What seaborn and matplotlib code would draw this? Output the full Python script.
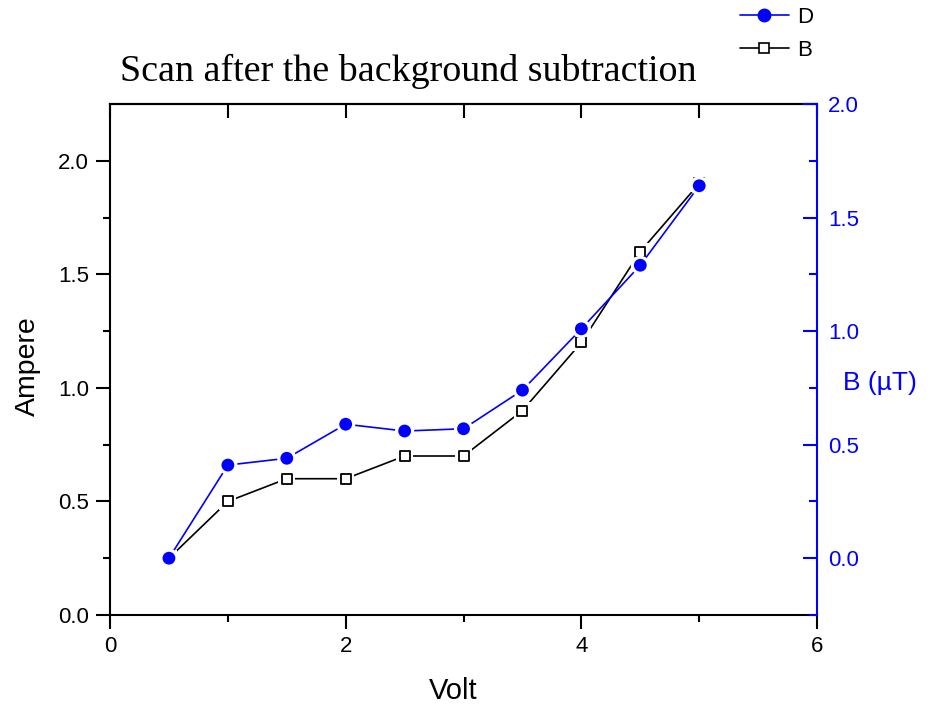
import matplotlib
matplotlib.use("Agg")
import matplotlib.pyplot as plt
import seaborn as sns
from matplotlib.ticker import MultipleLocator, FixedLocator, FormatStrFormatter
from matplotlib.lines import Line2D

# Measured data
volt = [0.5, 1.0, 1.5, 2.0, 2.5, 3.0, 3.5, 4.0, 4.5, 5.0]
b_ampere = [0.25, 0.50, 0.60, 0.60, 0.70, 0.70, 0.90, 1.20, 1.60, 1.90]
d_field = [0.00, 0.41, 0.44, 0.59, 0.56, 0.57, 0.74, 1.01, 1.29, 1.64]

x_major = [0, 2, 4, 6]
left_major = [0.0, 0.5, 1.0, 1.5, 2.0]
left_minor = [0.25, 0.75, 1.25, 1.75]
right_major = [0.0, 0.5, 1.0, 1.5, 2.0]
right_minor = [-0.25, 0.25, 0.75, 1.25, 1.75]

sns.set_style("white")
plt.rcParams["font.family"] = ["Liberation Sans", "DejaVu Sans"]
plt.rcParams["text.color"] = "black"
plt.rcParams["axes.labelcolor"] = "black"

fig = plt.figure(figsize=(9.34, 7.08), dpi=100)
ax = fig.add_axes([0.1178, 0.1314, 0.757, 0.7217])
ax2 = ax.twinx()

BLUE = "#0000ff"
LW = 1.5

# B series on the left axis: line, white halo, open squares
sns.lineplot(x=volt, y=b_ampere, ax=ax, color="black", lw=1.2, zorder=2)
sns.scatterplot(x=volt, y=b_ampere, ax=ax, marker="s", s=150, color="white",
                edgecolor="none", zorder=3, legend=False)
sns.scatterplot(x=volt, y=b_ampere, ax=ax, marker="s", s=55, facecolor="white",
                edgecolor="black", linewidth=1.3, zorder=4, legend=False)

# D series on the right axis: line, white halo, filled circles
sns.lineplot(x=volt, y=d_field, ax=ax2, color=BLUE, lw=1.2, zorder=2)
sns.scatterplot(x=volt, y=d_field, ax=ax2, marker="o", s=190, color="white",
                edgecolor="none", zorder=3, legend=False)
sns.scatterplot(x=volt, y=d_field, ax=ax2, marker="o", s=85, color=BLUE,
                edgecolor="none", zorder=4, legend=False)

# Left / bottom axes
ax.set_xlim(0, 6)
ax.set_ylim(0, 2.25)
ax.xaxis.set_major_locator(FixedLocator(x_major))
ax.xaxis.set_minor_locator(MultipleLocator(1))
ax.yaxis.set_major_locator(FixedLocator(left_major))
ax.yaxis.set_minor_locator(FixedLocator(left_minor))
ax.yaxis.set_major_formatter(FormatStrFormatter("%.1f"))
ax.tick_params(which="major", direction="out", length=10, width=LW,
               labelsize=16, pad=5, colors="black", left=True, bottom=True)
ax.tick_params(which="minor", direction="out", length=5, width=LW,
               colors="black", left=True, bottom=True)
ax.tick_params(which="both", top=False, right=False)
for side in ["left", "bottom", "top"]:
    ax.spines[side].set_linewidth(LW)
    ax.spines[side].set_color("black")
ax.spines["right"].set_visible(False)

top = ax.secondary_xaxis("top")
top.xaxis.set_major_locator(MultipleLocator(1))
top.tick_params(direction="in", length=10, width=LW, colors="black",
                labeltop=False)
top.spines["top"].set_linewidth(LW)
top.spines["top"].set_color("black")

ax.set_xlabel("Volt", fontsize=21)
ax.xaxis.set_label_coords(0.485, -0.122)
ax.set_ylabel("Ampere", fontsize=20.5)
ax.yaxis.set_label_coords(-0.0976, 0.487)

# Right axis
ax2.set_ylim(-0.25, 2.0)
ax2.yaxis.set_major_locator(FixedLocator(right_major))
ax2.yaxis.set_minor_locator(FixedLocator(right_minor))
ax2.yaxis.set_major_formatter(FormatStrFormatter("%.1f"))
ax2.tick_params(axis="y", which="major", direction="in", length=10, width=LW,
                colors=BLUE, labelsize=16, pad=8, right=True)
ax2.tick_params(axis="y", which="minor", direction="in", length=6, width=LW,
                colors=BLUE, right=True)
for side in ["left", "bottom", "top"]:
    ax2.spines[side].set_visible(False)
ax2.spines["right"].set_color(BLUE)
ax2.spines["right"].set_linewidth(LW)
ax2.set_ylabel("B (\u00b5T)", fontsize=19, color=BLUE, rotation=0,
               ha="left", va="center")
ax2.yaxis.set_label_coords(1.037, 0.454)

# Title
fig.text(120 / 934, 1 - 81 / 708, "Scan after the background subtraction",
         fontsize=27.4, family=["Liberation Serif", "DejaVu Serif"],
         color="black", ha="left", va="baseline")

# Legend
handles = [
    Line2D([], [], color=BLUE, lw=1.2, marker="o", markersize=9,
           markerfacecolor=BLUE, markeredgecolor=BLUE),
    Line2D([], [], color="black", lw=1.2, marker="s", markersize=6.5,
           markerfacecolor="white", markeredgecolor="black", markeredgewidth=1.2),
]
fig.legend(handles, ["D", "B"], loc="upper left",
           bbox_to_anchor=(740 / 934, 1 - 7 / 708), frameon=False,
           fontsize=16, handlelength=2.2, handletextpad=0.35,
           labelspacing=0.52, borderpad=0, borderaxespad=0)

fig.savefig("out.png", dpi=100)
